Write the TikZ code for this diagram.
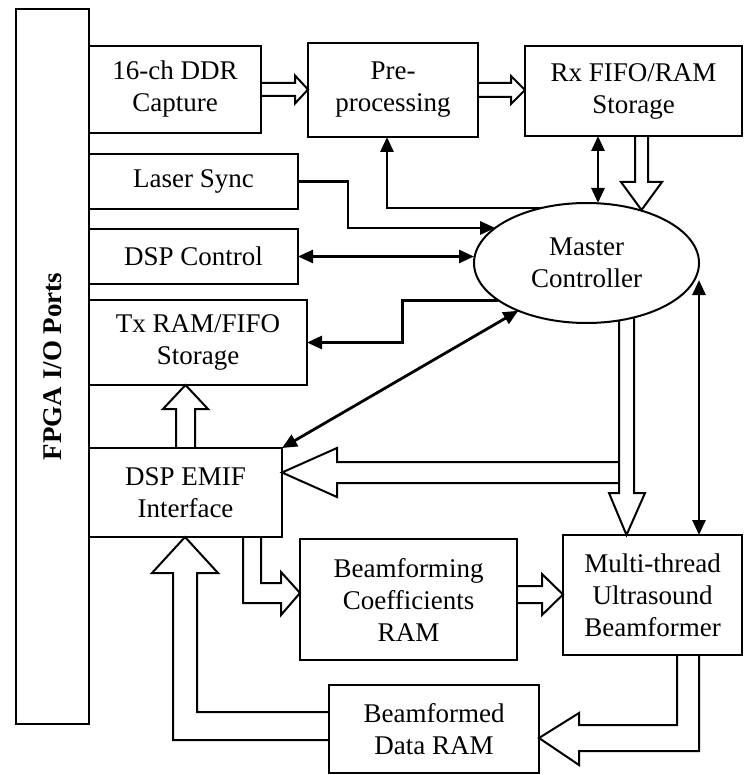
\documentclass[tikz,border=0pt]{standalone}
\usepackage{fontspec}
\setmainfont{Liberation Serif}
\usetikzlibrary{positioning, shapes.geometric, arrows.meta, calc}

\begin{document}
\begin{tikzpicture}[
    x=1pt, y=1pt,
    font=\fontsize{27}{32}\selectfont,
    >={Triangle[length=15pt, width=13pt]},
    size/.style 2 args={minimum width=#1pt, minimum height=#2pt},
    blk/.style   ={draw, line width=2pt, align=center, inner sep=0pt, outer sep=0pt},
    ctrl/.style  ={blk, ellipse, size={225}{120}},
    wire/.style  ={line width=2.8pt},
    fat/.style   ={line width=2pt, line join=miter},
]
\useasboundingbox (0,0) rectangle (744,-775);

% =============== FPGA pins ===============
\node[blk, rotate=90, size={715}{73}] (fpga) at (52.5,-366.5) {\bfseries FPGA I/O Ports};

% =============== Receive path ===============
\node[blk, size={172}{87}, anchor=north west] (ddr) at (89,-46) {16-ch DDR\\Capture};
\node[blk, size={170}{94}, anchor=north west] (pre) at (308,-43) {Pre-\\processing};
\node[blk, size={217}{90}, anchor=north west] (rx)  at (525,-46) {Rx FIFO/RAM\\Storage};

% =============== Left column ===============
\node[blk, size={209}{55}, anchor=north west] (laser) at (89,-154) {Laser Sync};
\node[blk, size={209}{55}, below=20pt of laser.south west, anchor=north west] (dspc) {DSP Control};
\node[blk, size={218}{85}, below=16pt of dspc.south west, anchor=north west] (tx) {Tx RAM/FIFO\\Storage};
\node[blk, size={193}{89}, below=63pt of tx.south west, anchor=north west] (emif) {DSP EMIF\\Interface};

% =============== Beamforming ===============
\node[blk, size={217}{121}, anchor=north west] (coef) at (300,-539) {Beamforming\\Coefficients\\RAM};
\node[blk, size={179}{120}, anchor=north west] (bf)   at (563,-535) {Multi-thread\\Ultrasound\\Beamformer};
\node[blk, size={210}{88},  anchor=north west] (bdr)  at (329,-685) {Beamformed\\Data RAM};

% =============== Controller ===============
\node[ctrl] (mc) at (586.5,-263) {Master\\Controller};

% =============== Control wires ===============
\draw[wire, <->] ($(rx.south)+(-35.5,0)$) -- ++(0,-67);
\draw[wire, ->] (mc.129) -| ([xshift=-6pt]pre.south);
\draw[wire, ->] (laser.east) -- ++(50,0) |- (mc.159);
\draw[wire, <->] (dspc.east) -- (dspc.east -| mc.west);
\draw[wire, ->] (mc.203) -- ++(-96,0) |- (tx.east);
\draw[wire, <->] (emif.north east) -- (mc.215);
\draw[wire, <->] ($(mc.east)+(0,-17)$) -- (mc.east |- bf.north);

% =============== Data buses (hollow arrows) ===============
% ddr -> pre
\draw[fat] ([yshift=6.5pt]ddr.east) -- ++(34,0) -- ++(0,7.5) -- ++(13,-14)
  -- ++(-13,-14) -- ++(0,7.5) -- ++(-34,0);
% pre -> rx
\draw[fat] ([yshift=7pt]pre.east) -- ++(33,0) -- ++(0,7) -- ++(14,-14)
  -- ++(-14,-14) -- ++(0,7) -- ++(-33,0);
% rx -> mc
\draw[fat] ([xshift=1.5pt]rx.south) -- ++(0,-46) -- ++(-14,0) -- ++(20.5,-28)
  -- ++(20.5,28) -- ++(-14,0) -- ++(0,46);
% mc -> bf
\draw[fat] ($(mc.south)+(32.5,2.5)$) -- ++(0,-172.5) -- ++(-10,0) -- ++(17.5,-42)
  -- ++(18.5,42) -- ++(-11,0) -- ($(mc.south)+(47.5,5.5)$);
% mc -> emif (branch)
\draw[fat] ($(emif.east)+(337,30.5)$) -- ++(-282,0) -- ++(0,14) -- ++(-55,-24.5)
  -- ++(55,-24.5) -- ++(0,14) -- ++(282,0);
% emif -> tx
\draw[fat] ([xshift=-9.5pt]emif.north) -- ++(0,39) -- ++(-13,0) -- ++(22.5,24)
  -- ++(22.5,-24) -- ++(-13,0) -- ++(0,-39);
% emif -> coef
\draw[fat] ([xshift=57.5pt]emif.south) -- ++(0,-66) -- ++(38,0) -- ++(0,-12)
  -- ++(19,22) -- ++(-19,21) -- ++(0,-11) -- ++(-20,0) -- ++(0,46);
% coef -> bf
\draw[fat] ([yshift=13.5pt]coef.east) -- ++(25,0) -- ++(0,12) -- ++(21,-20.5)
  -- ++(-21,-20.5) -- ++(0,12) -- ++(-25,0);
% bf -> bdr
\draw[fat] ([xshift=24.5pt]bf.south) -- ++(0,-70) -- ++(-98,0) -- ++(0,12)
  -- ++(-40,-25) -- ++(40,-27) -- ++(0,14) -- ++(120,0) -- ++(0,96);
% bdr -> emif
\draw[fat] ([yshift=17pt]bdr.west) -- ++(-132,0) -- ++(0,139) -- ++(21,0)
  -- ++(-33,36) -- ++(-33,-36) -- ++(21,0) -- ++(0,-167) -- ++(156,0);

\end{tikzpicture}
\end{document}
